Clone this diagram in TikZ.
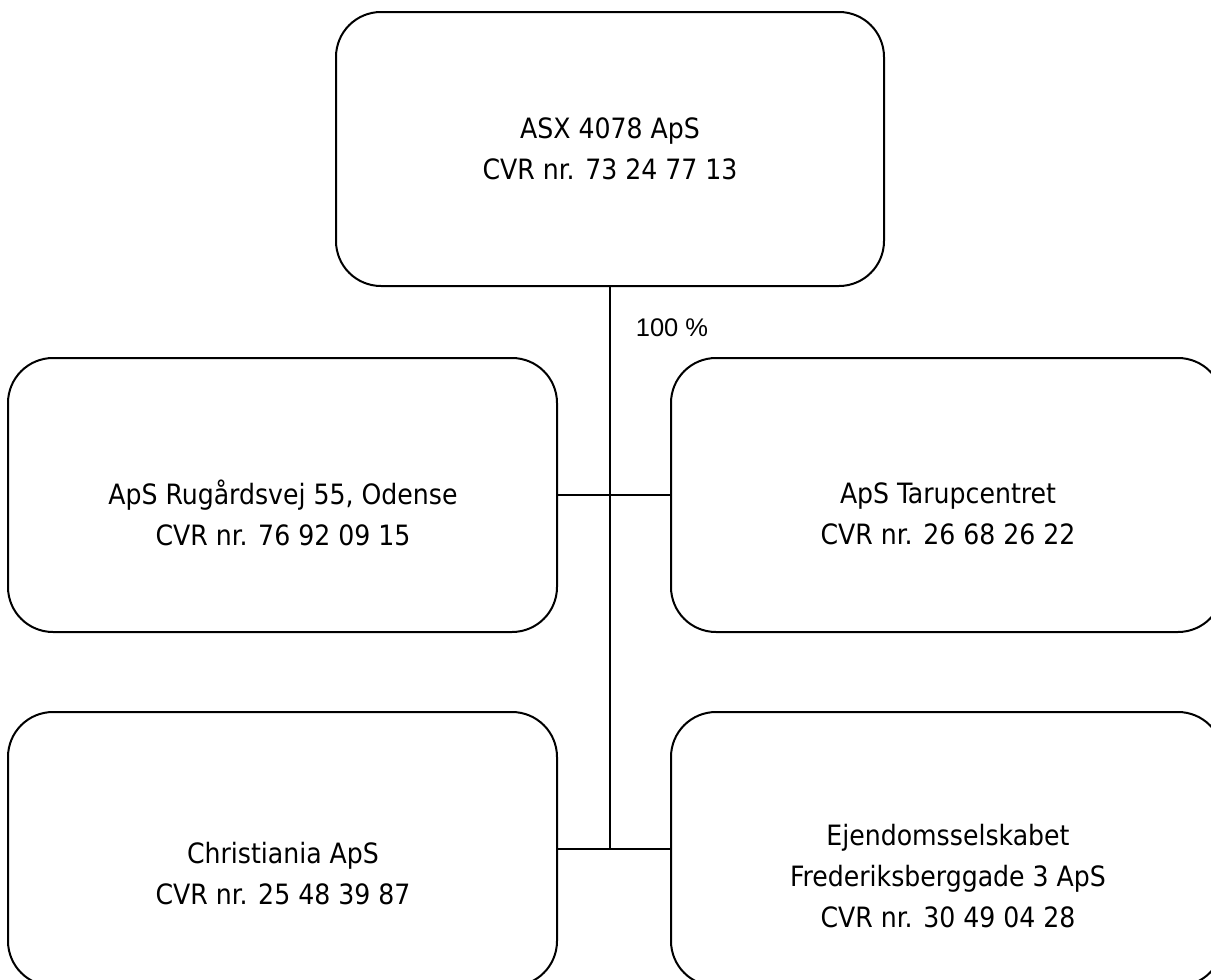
\documentclass[tikz,border=0pt]{standalone}
\usepackage{fontspec}
\setmainfont{DejaVu Sans Condensed}
\newfontfamily\arialfont{Liberation Sans}
\begin{document}
\begin{tikzpicture}[x=1pt,y=-1pt,
  box/.style={draw=black, line width=2pt, rounded corners=45pt, rectangle,
    minimum height=274pt, inner sep=0pt},
  txt/.style={align=center, inner sep=0pt, font=\fontsize{28}{41}\selectfont},
  conn/.style={draw=black, line width=2pt},
  trunk/.style={draw=black, line width=2.8pt}]
\useasboundingbox (0,0) rectangle (1211,980);
\clip (0,0) rectangle (1211,980);
\fill[white] (0,0) rectangle (1211,980);
% boxes
\node[box, minimum width=548pt] (top) at (610,149) {};
\node[box, minimum width=549pt] (ml) at (282.5,495) {};
\node[box, minimum width=552pt] (mr) at (947,495) {};
\node[box, minimum width=549pt] (bl) at (282.5,849) {};
\node[box, minimum width=552pt] (br) at (947,849) {};
% texts
\node[txt] (ttop) at (610,149) {ASX 4078 ApS\\CVR nr. 73 24 77 13};
\node[txt] (tml) at (283,513) {ApS Rugårdsvej 55, Odense\\CVR nr. 76 92 09 15};
\node[txt] (tmr) at (948,514) {ApS Tarupcentret\\CVR nr. 26 68 26 22};
\node[txt] (tbl) at (283,874) {Christiania ApS\\CVR nr. 25 48 39 87};
\node[txt] (tbr) at (948,876) {Ejendomsselskabet\\Frederiksberggade 3 ApS\\CVR nr. 30 49 04 28};
% connectors
\coordinate (j) at (top.south |- bl.east);
\draw[trunk] (top.south) -- (j);
\draw[conn] (ml.east) -- (mr.west);
\draw[conn] (bl.east) -- (br.west);
\node[inner sep=0pt, font=\arialfont\fontsize{25.5}{30}\selectfont] (pct) at (672,328) {100 \%};
\end{tikzpicture}
\end{document}
